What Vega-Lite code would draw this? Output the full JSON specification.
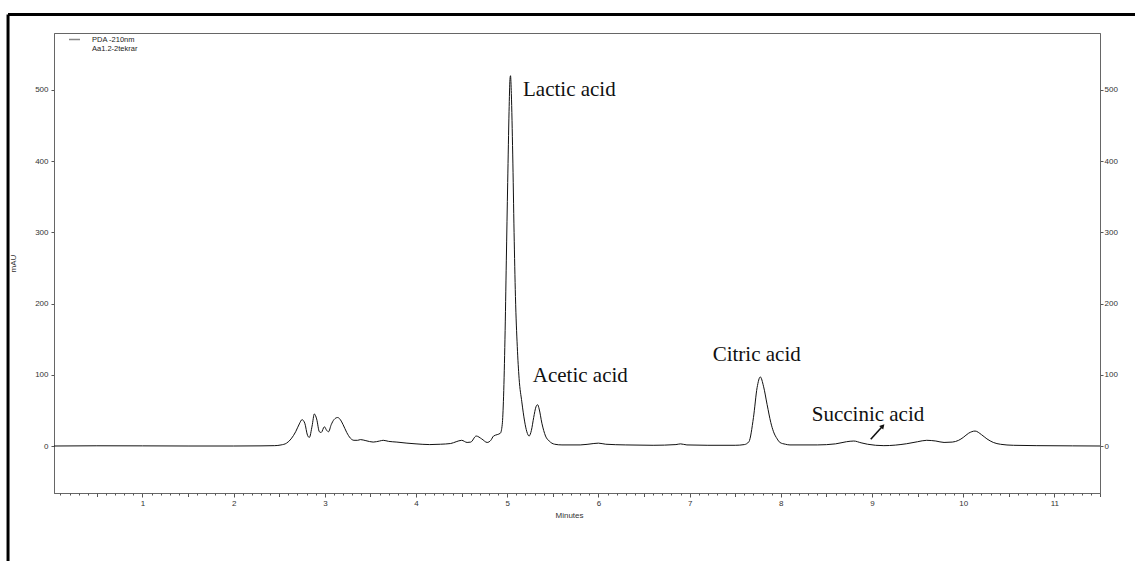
{
  "$schema": "https://vega.github.io/schema/vega-lite/v6.json",
  "width": 1046,
  "height": 460,
  "autosize": {"type": "none"},
  "padding": {"left": 54, "top": 33, "right": 35, "bottom": 68},
  "background": "white",
  "config": {
    "view": {"stroke": "#666", "strokeWidth": 1},
    "axis": {
      "grid": false,
      "domainColor": "#666",
      "tickColor": "#555",
      "labelFont": "Liberation Sans",
      "labelFontSize": 8,
      "labelColor": "#333",
      "titleFont": "Liberation Sans",
      "titleFontSize": 8,
      "titleFontWeight": "normal",
      "titleColor": "#333"
    }
  },
  "datasets": {
    "trace": [
      {"t":0.03,"v":0},{"t":0.5,"v":0.3},{"t":1.0,"v":0.2},{"t":1.5,"v":0},{"t":2.0,"v":0},{"t":2.3,"v":0.2},{"t":2.45,"v":0.5},{"t":2.52,"v":1.5},{"t":2.58,"v":4},{"t":2.63,"v":10},{"t":2.68,"v":20},{"t":2.72,"v":31},{"t":2.75,"v":37},{"t":2.78,"v":32},{"t":2.81,"v":15},{"t":2.83,"v":12},{"t":2.86,"v":28},{"t":2.885,"v":45},{"t":2.91,"v":38},{"t":2.94,"v":20},{"t":2.96,"v":19},{"t":2.995,"v":27},{"t":3.02,"v":22},{"t":3.04,"v":20},{"t":3.07,"v":30},{"t":3.1,"v":37},{"t":3.14,"v":40},{"t":3.17,"v":37},{"t":3.2,"v":30},{"t":3.24,"v":19},{"t":3.28,"v":11},{"t":3.32,"v":8},{"t":3.36,"v":8},{"t":3.39,"v":9},{"t":3.45,"v":7.5},{"t":3.53,"v":5.5},{"t":3.6,"v":7},{"t":3.64,"v":8},{"t":3.7,"v":6.5},{"t":3.79,"v":5.5},{"t":3.9,"v":4},{"t":4.0,"v":3},{"t":4.15,"v":2},{"t":4.27,"v":2.5},{"t":4.38,"v":3.5},{"t":4.44,"v":6},{"t":4.5,"v":8},{"t":4.56,"v":5},{"t":4.6,"v":5.5},{"t":4.66,"v":14},{"t":4.72,"v":10},{"t":4.78,"v":5},{"t":4.82,"v":8},{"t":4.85,"v":14},{"t":4.89,"v":16},{"t":4.925,"v":18},{"t":4.945,"v":30},{"t":4.96,"v":70},{"t":4.975,"v":150},{"t":4.99,"v":260},{"t":5.005,"v":370},{"t":5.02,"v":470},{"t":5.03,"v":515},{"t":5.036,"v":520},{"t":5.045,"v":495},{"t":5.06,"v":410},{"t":5.075,"v":300},{"t":5.09,"v":210},{"t":5.11,"v":140},{"t":5.13,"v":95},{"t":5.16,"v":62},{"t":5.19,"v":35},{"t":5.215,"v":20},{"t":5.24,"v":14},{"t":5.265,"v":22},{"t":5.29,"v":40},{"t":5.315,"v":55},{"t":5.333,"v":58},{"t":5.35,"v":52},{"t":5.38,"v":32},{"t":5.42,"v":14},{"t":5.46,"v":7},{"t":5.52,"v":2.5},{"t":5.6,"v":1.5},{"t":5.8,"v":1.5},{"t":5.95,"v":3.5},{"t":6.0,"v":4},{"t":6.08,"v":2.5},{"t":6.3,"v":1.5},{"t":6.6,"v":1},{"t":6.85,"v":2},{"t":6.9,"v":3},{"t":6.97,"v":1.5},{"t":7.2,"v":1},{"t":7.5,"v":1},{"t":7.6,"v":2},{"t":7.65,"v":6},{"t":7.7,"v":40},{"t":7.74,"v":82},{"t":7.775,"v":97},{"t":7.81,"v":84},{"t":7.85,"v":58},{"t":7.89,"v":33},{"t":7.92,"v":20},{"t":7.96,"v":10},{"t":7.99,"v":5},{"t":8.05,"v":2.5},{"t":8.1,"v":1.5},{"t":8.4,"v":1.5},{"t":8.6,"v":3},{"t":8.72,"v":6},{"t":8.8,"v":7},{"t":8.88,"v":4.5},{"t":8.95,"v":2.5},{"t":9.13,"v":0.5},{"t":9.38,"v":3.2},{"t":9.5,"v":6},{"t":9.6,"v":8},{"t":9.7,"v":7},{"t":9.79,"v":5},{"t":9.88,"v":5.5},{"t":9.95,"v":8},{"t":10.0,"v":12},{"t":10.06,"v":18},{"t":10.13,"v":21},{"t":10.2,"v":16},{"t":10.26,"v":10},{"t":10.33,"v":5},{"t":10.41,"v":2.4},{"t":10.55,"v":1},{"t":10.8,"v":0.5},{"t":11.2,"v":0.2},{"t":11.5,"v":0}
    ],
    "peaks": [
      {"label": "Lactic acid", "t": 5.173, "v": 500},
      {"label": "Acetic acid", "t": 5.28, "v": 99},
      {"label": "Citric acid", "t": 7.253, "v": 128},
      {"label": "Succinic acid", "t": 8.339, "v": 43.5}
    ],
    "arrow": [
      {"t": 8.986, "v": 9.4, "t2": 9.118, "v2": 28.1}
    ]
  },
  "layer": [
    {
      "data": {"name": "trace"},
      "mark": {"type": "line", "interpolate": "monotone", "strokeWidth": 1},
      "encoding": {
        "x": {
          "field": "t", "type": "quantitative",
          "scale": {"domain": [0.03, 11.5], "nice": false, "zero": false},
          "axis": {
            "orient": "bottom",
            "title": "Minutes",
            "values": [1,2,3,4,5,6,7,8,9,10,11],
            "format": "d",
            "labelOverlap": false,
            "labelFlush": false,
            "tickSize": 4,
            "labelPadding": 2,
            "titleX": 515,
            "titleY": 22,
            "titleBaseline": "middle"
          }
        },
        "y": {
          "field": "v", "type": "quantitative",
          "scale": {"domain": [-66, 580], "nice": false, "zero": false},
          "axis": {
            "title": "mAU",
            "values": [0, 100, 200, 300, 400, 500],
            "format": "d",
            "tickSize": 3,
            "labelPadding": 3,
            "titleX": -41,
            "titleY": 230,
            "titleAlign": "center",
            "titleBaseline": "middle"
          }
        },
        "color": {
          "datum": "PDA -210nm",
          "scale": {"range": ["#111111"]},
          "legend": {
            "orient": "none",
            "legendX": 14,
            "legendY": 0,
            "title": null,
            "labelExpr": "['PDA -210nm', 'Aa1.2-2tekrar']",
            "symbolType": "stroke",
            "symbolSize": 121,
            "symbolOpacity": 0.5,
            "symbolStrokeWidth": 1.5,
            "labelFont": "Liberation Sans",
            "labelFontSize": 7.5,
            "labelColor": "#222",
            "labelOffset": 11,
            "labelLimit": 300,
            "padding": 0
          }
        }
      }
    },
    {
      "data": {"name": "peaks"},
      "mark": {"type": "text", "font": "Liberation Serif", "fontSize": 21, "align": "left", "baseline": "middle", "color": "#111"},
      "encoding": {
        "x": {
          "field": "t", "type": "quantitative",
          "axis": {
            "orient": "bottom",
            "title": null,
            "labels": false,
            "domain": false,
            "tickSize": 2,
            "values": [0.1,0.2,0.3,0.4,0.6,0.7,0.8,0.9,1.1,1.2,1.3,1.4,1.6,1.7,1.8,1.9,2.1,2.2,2.3,2.4,2.6,2.7,2.8,2.9,3.1,3.2,3.3,3.4,3.6,3.7,3.8,3.9,4.1,4.2,4.3,4.4,4.6,4.7,4.8,4.9,5.1,5.2,5.3,5.4,5.6,5.7,5.8,5.9,6.1,6.2,6.3,6.4,6.6,6.7,6.8,6.9,7.1,7.2,7.3,7.4,7.6,7.7,7.8,7.9,8.1,8.2,8.3,8.4,8.6,8.7,8.8,8.9,9.1,9.2,9.3,9.4,9.6,9.7,9.8,9.9,10.1,10.2,10.3,10.4,10.6,10.7,10.8,10.9,11.1,11.2,11.3,11.4]
          }
        },
        "y": {
          "field": "v", "type": "quantitative",
          "axis": {
            "orient": "right",
            "title": null,
            "values": [0, 100, 200, 300, 400, 500],
            "format": "d",
            "tickSize": 3,
            "labelPadding": 1
          }
        },
        "text": {"field": "label"}
      }
    },
    {
      "data": {"name": "arrow"},
      "mark": {"type": "rule", "strokeWidth": 1.6, "color": "#111"},
      "encoding": {
        "x": {
          "field": "t", "type": "quantitative",
          "axis": {
            "orient": "bottom",
            "title": null,
            "labels": false,
            "domain": false,
            "tickSize": 3.5,
            "values": [0.5,1.5,2.5,3.5,4.5,5.5,6.5,7.5,8.5,9.5,10.5,11.5]
          }
        },
        "y": {"field": "v", "type": "quantitative", "axis": null},
        "x2": {"field": "t2"},
        "y2": {"field": "v2"}
      }
    },
    {
      "data": {"name": "arrow"},
      "mark": {"type": "point", "shape": "triangle-up", "filled": true, "size": 30, "angle": 42, "color": "#111", "opacity": 1},
      "encoding": {
        "x": {"field": "t2", "type": "quantitative", "axis": null},
        "y": {"field": "v2", "type": "quantitative", "axis": null}
      }
    },
    {
      "data": {"values": [{}]},
      "mark": {"type": "rule", "color": "black", "strokeWidth": 3},
      "encoding": {
        "x": {"datum": -0.474, "type": "quantitative", "axis": null},
        "y": {"datum": -174, "type": "quantitative", "axis": null},
        "y2": {"datum": 606}
      }
    },
    {
      "data": {"values": [{}]},
      "mark": {"type": "rule", "color": "black", "strokeWidth": 3},
      "encoding": {
        "x": {"datum": -0.474, "type": "quantitative", "axis": null},
        "x2": {"datum": 11.94},
        "y": {"datum": 606, "type": "quantitative", "axis": null}
      }
    }
  ],
  "resolve": {"axis": {"x": "independent", "y": "independent"}}
}
